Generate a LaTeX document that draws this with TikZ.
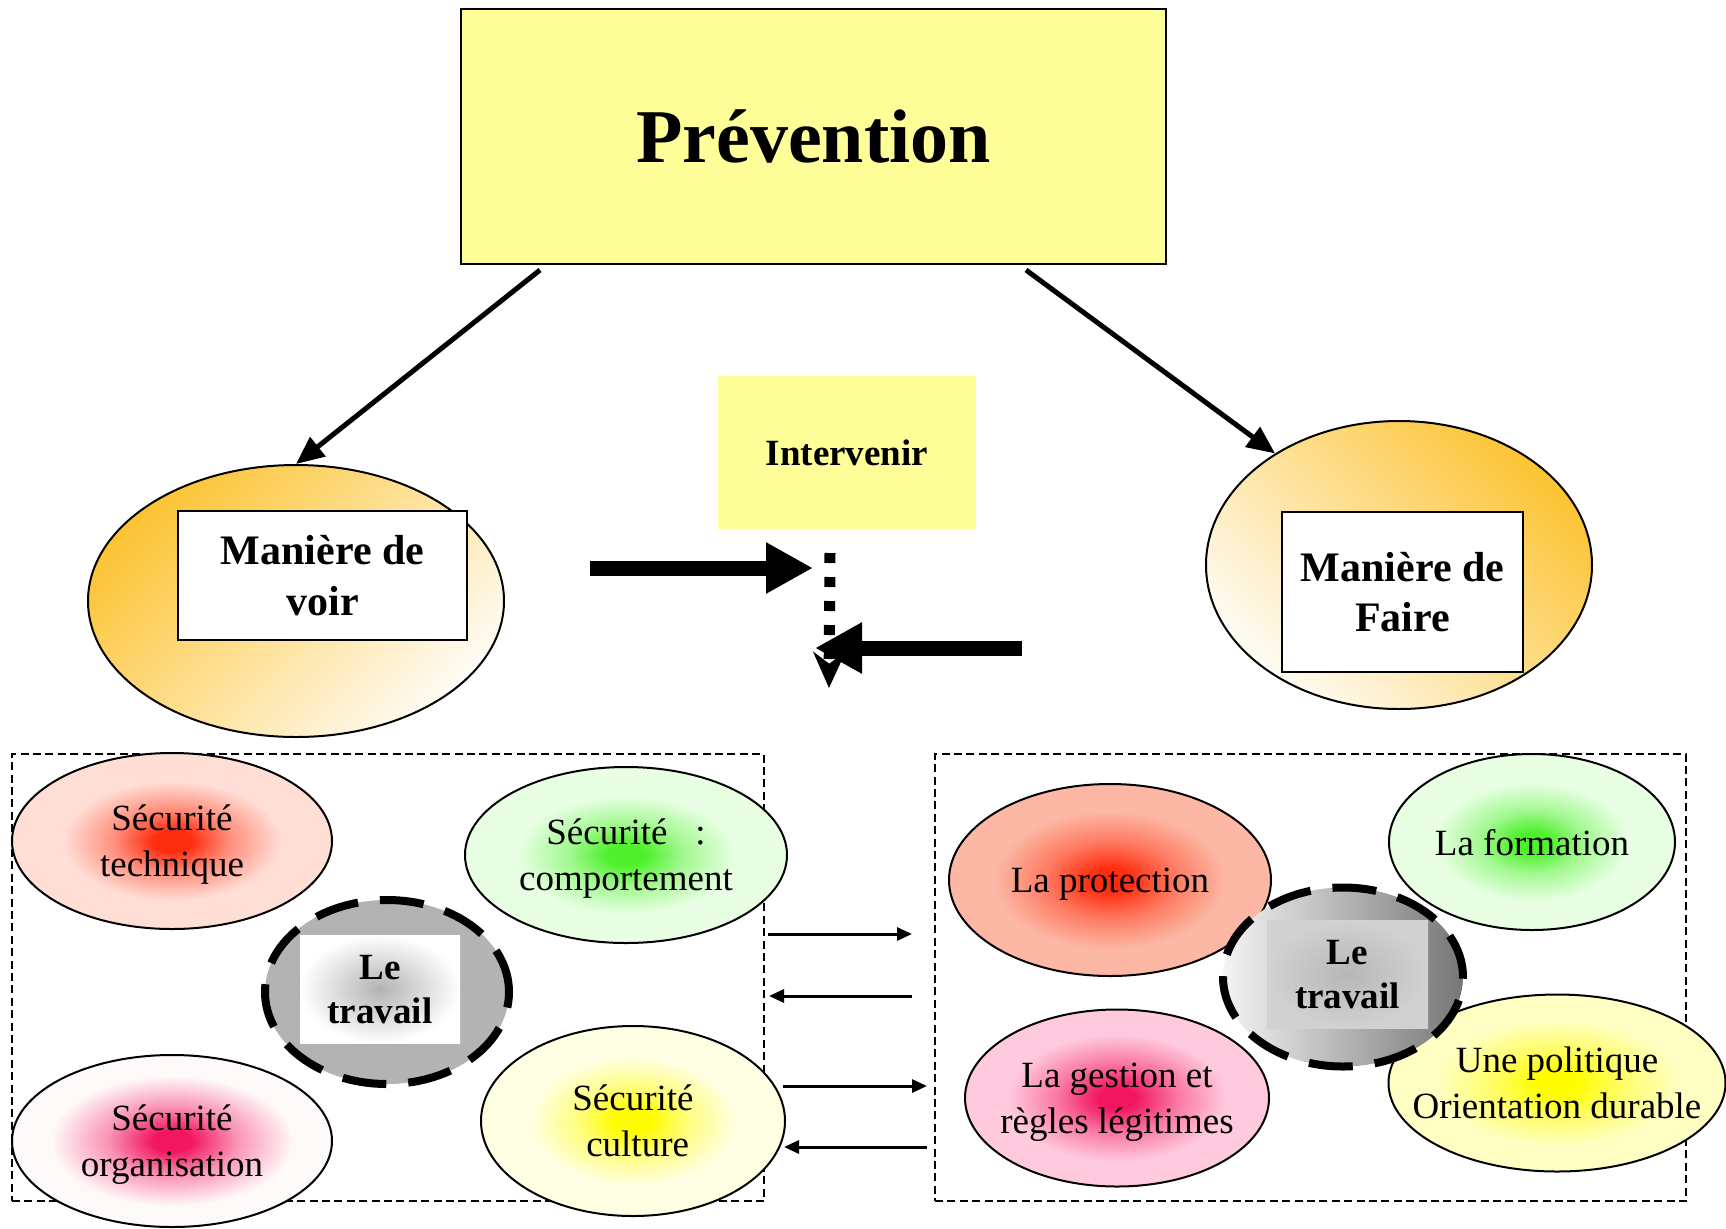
\documentclass[tikz,border=0pt]{standalone}
\usepackage{fontspec}
\setmainfont{Liberation Serif}
\usetikzlibrary{shapes.geometric,arrows.meta}
\tikzset{every picture/.style={line width=1pt}}

\definecolor{jaune}{RGB}{255,255,153}
\definecolor{orfonce}{RGB}{252,196,52}
\definecolor{orpale}{RGB}{255,252,245}
\definecolor{gristrav}{RGB}{179,179,179}
\definecolor{grisclair}{RGB}{244,244,244}
\definecolor{grisfonce}{RGB}{118,118,118}
\definecolor{rougec}{RGB}{255,45,15}
\definecolor{rosepale}{RGB}{255,222,214}
\definecolor{saumon}{RGB}{252,184,164}
\definecolor{vertc}{RGB}{80,240,45}
\definecolor{vertpale}{RGB}{232,255,228}
\definecolor{framboise}{RGB}{242,22,95}
\definecolor{blancrose}{RGB}{255,250,250}
\definecolor{rosec}{RGB}{255,202,222}
\definecolor{jaunec}{RGB}{255,252,0}
\definecolor{jaunepale}{RGB}{255,255,228}
\definecolor{jauneedge}{RGB}{255,255,196}

\pgfdeclareradialshading{sectech}{\pgfpoint{0bp}{0bp}}{color(0bp)=(rougec); color(3bp)=(rougec); color(9bp)=(rougec!45!rosepale); color(17bp)=(rosepale); color(50bp)=(rosepale)}
\pgfdeclareradialshading{protec}{\pgfpoint{0bp}{0bp}}{color(0bp)=(rougec); color(3bp)=(rougec); color(10bp)=(rougec!45!saumon); color(18bp)=(saumon); color(50bp)=(saumon)}
\pgfdeclareradialshading{vert}{\pgfpoint{0bp}{0bp}}{color(0bp)=(vertc); color(3bp)=(vertc); color(9bp)=(vertc!45!vertpale); color(17bp)=(vertpale); color(50bp)=(vertpale)}
\pgfdeclareradialshading{organ}{\pgfpoint{0bp}{0bp}}{color(0bp)=(framboise); color(3bp)=(framboise); color(10bp)=(framboise!45!blancrose); color(19bp)=(blancrose); color(50bp)=(blancrose)}
\pgfdeclareradialshading{gestion}{\pgfpoint{0bp}{0bp}}{color(0bp)=(framboise); color(3bp)=(framboise); color(10bp)=(framboise!45!rosec); color(18bp)=(rosec); color(50bp)=(rosec)}
\pgfdeclareradialshading{culture}{\pgfpoint{0bp}{0bp}}{color(0bp)=(jaunec); color(3bp)=(jaunec); color(9bp)=(jaunec!45!jaunepale); color(17bp)=(jaunepale); color(50bp)=(jaunepale)}
\pgfdeclareradialshading{politique}{\pgfpoint{0bp}{0bp}}{color(0bp)=(jaunec); color(3bp)=(jaunec); color(10bp)=(jaunec!45!jauneedge); color(18bp)=(jauneedge); color(50bp)=(jauneedge)}

\tikzset{
  bubble/.style={ellipse, draw, line width=1pt, shade, inner sep=-40pt, text depth=0pt, align=center, font=\fontsize{18.5}{23}\selectfont},
  manner/.style={ellipse, draw, line width=1pt, shade, inner sep=0pt},
  mbox/.style={draw, fill=white, line width=1pt, align=center, text depth=0pt, font=\fontsize{21}{25.3}\selectfont\bfseries},
  dashbox/.style={draw, line width=0.75pt, dash pattern=on 4pt off 2.2pt},
  travail/.style={ellipse, draw, line width=4pt, dash pattern=on 22pt off 11pt, inner sep=0pt},
  travtxt/.style={align=center, inner sep=0pt, text depth=0pt, font=\fontsize{18.5}{22}\selectfont\bfseries},
  grosse/.style={line width=7.5pt, -{Triangle[length=23.5pt,width=24pt]}},
  fleche/.style={line width=1.5pt, -{Triangle[length=7.5pt,width=6.5pt]}}
}

\begin{document}
\begin{tikzpicture}[x=0.5pt,y=0.5pt,yscale=-1,xscale=1]
\useasboundingbox (0,0) rectangle (1726,1228);

%Shape: Rectangle [Prevention]
\node [draw, fill=jaune, line width=1pt, minimum width=352.5pt, minimum height=127.5pt, font=\fontsize{38}{45}\selectfont\bfseries] (prev) at (813.5,136.5) {Prévention};
%Shape: Rectangle [Intervenir]
\node [fill=jaune, minimum width=129pt, minimum height=76.5pt, font=\fontsize{18.5}{22}\selectfont\bfseries] (interv) at (847,452.5) {Intervenir};

%Shape: Ellipse [Maniere de voir]
\node [manner, top color=orfonce, bottom color=orpale, shading angle=45, minimum width=208pt, minimum height=136pt] (voir) at (296,601) {};
\node [mbox, minimum width=144.5pt, minimum height=64.5pt] (voirtxt) at (322.5,575.5) {Manière de\\voir};
%Shape: Ellipse [Maniere de Faire]
\node [manner, top color=orfonce, bottom color=orpale, shading angle=-45, minimum width=193pt, minimum height=144pt] (faire) at (1399,565) {};
\node [mbox, minimum width=120.5pt, minimum height=80pt] (fairetxt) at (1402.5,592) {Manière de\\Faire};

%Straight Lines [Prevention -> voir / Faire]
\coordinate (pv1) at (540,270);
\coordinate (pv2) at (1026,270);
\draw [line width=2.5pt, -{Triangle[length=14pt,width=12pt]}] (pv1) -- (voir.north);
\draw [line width=2.5pt, -{Triangle[length=14pt,width=12pt]}] (pv2) -- (faire.138);

%Straight Lines [Intervenir arrows]
\coordinate (gv1) at (590,568);
\coordinate (gv2) at (813,568);
\coordinate (dt1) at (830,553);
\coordinate (dt2) at (829,688);
\coordinate (gf1) at (1022,648);
\coordinate (gf2) at (815,648);
\draw [grosse] (gv1) -- (gv2);
\draw [line width=5.5pt, dash pattern=on 5pt off 7pt, -{Stealth[length=18pt,width=16pt]}] (dt1) -- (dt2);
\draw [grosse] (gf1) -- (gf2);

%Shape: Rectangle [dashed frames]
\node [dashbox, minimum width=376pt, minimum height=223.5pt] (lbox) at (388,977.5) {};
\node [dashbox, minimum width=375.5pt, minimum height=223.5pt] (rbox) at (1310.5,977.5) {};

%Shape: Ellipse [left frame]
\node [bubble, shading=sectech, minimum width=160pt, minimum height=88pt] (stech) at (172,841) {Sécurité\\technique};
\node [bubble, shading=vert, minimum width=161pt, minimum height=88pt] (scomp) at (626,855) {Sécurité\ \ \ :\\comportement};
\node [bubble, shading=organ, minimum width=160pt, minimum height=86pt] (sorg) at (172,1141) {Sécurité\\organisation};
\node [bubble, shading=culture, minimum width=152pt, minimum height=95pt] (scult) at (633,1121) {Sécurité\\\ culture};

%Shape: Ellipse [right frame]
\node [bubble, shading=protec, minimum width=161pt, minimum height=96pt] (protec) at (1110,880) {La protection};
\node [bubble, shading=gestion, minimum width=152pt, minimum height=88.5pt] (gestion) at (1117,1098) {La gestion et\\règles légitimes};
\node [bubble, shading=vert, minimum width=143pt, minimum height=88pt] (form) at (1532,842) {La formation};
\node [bubble, shading=politique, minimum width=168.5pt, minimum height=88.5pt] (polit) at (1557,1083) {Une politique\\Orientation durable};

%Shape: Ellipse [Le travail]
\node [travail, fill=gristrav, minimum width=122pt, minimum height=92pt] (travl) at (387,992) {};
\node [travtxt, inner color=gristrav, outer color=white, minimum width=80pt, minimum height=54pt] (travltxt) at (380,989) {Le\\travail};
\node [travail, left color=grisclair, right color=grisfonce, minimum width=120pt, minimum height=89.5pt] (travr) at (1343,977) {};
\node [travtxt, inner color=gristrav!95!white, outer color=gristrav!60!white, minimum width=80.5pt, minimum height=54pt] (travrtxt) at (1347.5,974) {Le\\travail};

%Straight Lines [between frames]
\coordinate (e1a) at (768,934);  \coordinate (e1b) at (912,934);
\coordinate (e2a) at (912,996);  \coordinate (e2b) at (769,996);
\coordinate (e3a) at (783,1086); \coordinate (e3b) at (927,1086);
\coordinate (e4a) at (927,1147); \coordinate (e4b) at (784,1147);
\draw [fleche] (e1a) -- (e1b);
\draw [fleche] (e2a) -- (e2b);
\draw [fleche] (e3a) -- (e3b);
\draw [fleche] (e4a) -- (e4b);

\end{tikzpicture}
\end{document}
